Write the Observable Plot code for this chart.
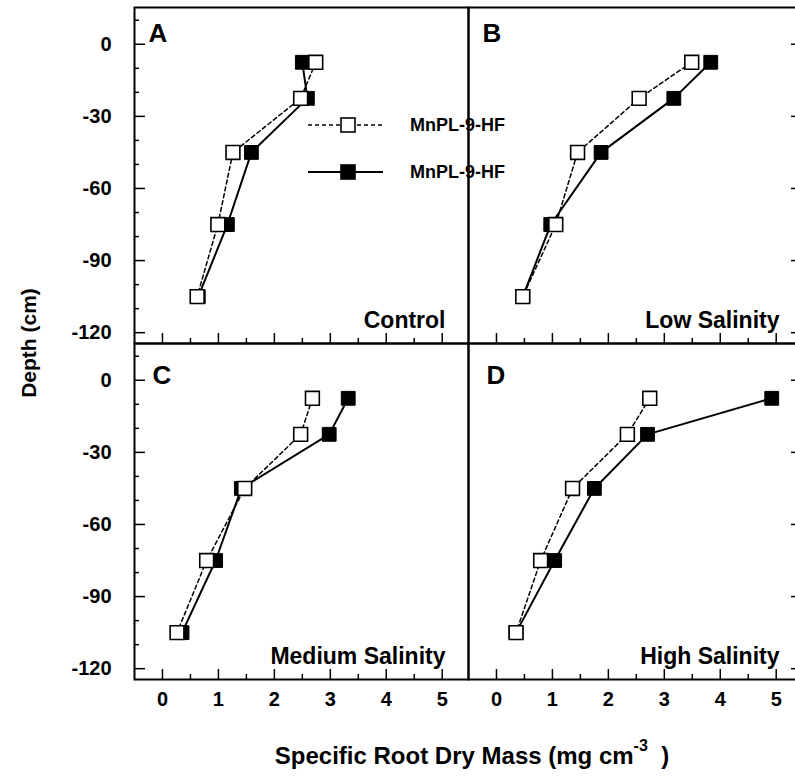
<!DOCTYPE html>
<html><head><meta charset="utf-8">
<script src="https://cdn.jsdelivr.net/npm/d3@7"></script>
<script src="https://cdn.jsdelivr.net/npm/@observablehq/plot@0.6"></script>
<style>
html,body{margin:0;padding:0;overflow:hidden;background:#fff;}
#chart{position:relative;width:802px;height:778px;}
</style></head><body><div id="chart"></div>
<script>
// ---- data ----
const depths = [-7.5, -22.5, -45, -75, -105];
const panelNames = ["Control", "Low Salinity", "Medium Salinity", "High Salinity"];
const panelLetters = ["A", "B", "C", "D"];
const panelCols = [0, 1, 0, 1];
const panelRows = [0, 0, 1, 1];
const seriesLabels = ["MnPL-9-HF", "MnPL-9-HF"]; // open (dashed), filled (solid)

// open squares, dashed line
const openControl = [2.74, 2.47, 1.26, 0.99, 0.62];
const openLow     = [3.49, 2.55, 1.45, 1.06, 0.47];
const openMedium  = [2.68, 2.47, 1.47, 0.79, 0.26];
const openHigh    = [2.74, 2.34, 1.36, 0.79, 0.35];
// filled squares, solid line
const filledControl = [2.50, 2.59, 1.59, 1.16, 0.64];
const filledLow     = [3.83, 3.17, 1.87, 0.97, 0.47];
const filledMedium  = [3.32, 2.98, 1.41, 0.95, 0.35];
const filledHigh    = [4.92, 2.70, 1.75, 1.04, 0.35];

const xMajorTicks = [0, 1, 2, 3, 4, 5];
const xMinorTicks = [0.5, 1.5, 2.5, 3.5, 4.5];
const yMajorTicks = [0, -30, -60, -90, -120];
const yMinorTicks = [10, -10, -20, -40, -50, -70, -80, -100, -110];

// ---- tables ----
const openSets = [openControl, openLow, openMedium, openHigh];
const filledSets = [filledControl, filledLow, filledMedium, filledHigh];
const panels = panelNames.map((name, i) => ({name, letter: panelLetters[i], col: panelCols[i], row: panelRows[i]}));
function recs(sets) {
  const out = [];
  sets.forEach((vals, i) => vals.forEach((v, j) => out.push({panel: panelNames[i], col: panelCols[i], row: panelRows[i], depth: depths[j], value: v})));
  return out;
}
const openRecs = recs(openSets);
const filledRecs = recs(filledSets);
const leftMajor = yMajorTicks.map(v => ({v, col: 0}));
const leftMinor = yMinorTicks.map(v => ({v, col: 0}));
const rightMajor = yMajorTicks.map(v => ({v, col: 1}));
const rightMinor = yMinorTicks.map(v => ({v, col: 1}));

const W = 802, H = 778, ML = 134, MT = 7, MB = 99;
const FW = (W - ML) / 2, FH = (H - MT - MB) / 2;
const font = "'Liberation Sans', Arial, Helvetica, sans-serif";
const tickStyle = {stroke: "black", strokeWidth: 1.5};

const chart = Plot.plot({
  width: W, height: H,
  marginLeft: ML, marginRight: 0, marginTop: MT, marginBottom: MB,
  style: {fontFamily: font, fontWeight: "bold", color: "black", background: "white", overflow: "visible"},
  x: {domain: [-0.5, 5.47]},
  y: {domain: [-124.5, 15.3]},
  fx: {axis: null, padding: 0, domain: [0, 1]},
  fy: {axis: null, padding: 0, domain: [0, 1]},
  marks: [
    Plot.ruleX(xMajorTicks, {x: d => d, insetTop: FH - 10, ...tickStyle}),
    Plot.ruleX(xMinorTicks, {x: d => d, insetTop: FH - 5, ...tickStyle}),
    Plot.ruleY(leftMajor, {y: "v", fx: "col", insetRight: FW - 11, ...tickStyle}),
    Plot.ruleY(leftMinor, {y: "v", fx: "col", insetRight: FW - 5, ...tickStyle}),
    Plot.ruleY(rightMajor, {y: "v", fx: "col", insetLeft: FW - 11, ...tickStyle}),
    Plot.ruleY(rightMinor, {y: "v", fx: "col", insetLeft: FW - 5, ...tickStyle}),
    Plot.axisX(xMajorTicks, {anchor: "bottom", tickSize: 0, tickPadding: 12, fontSize: 20, fontWeight: "bold", tickFormat: d => String(d), label: null}),
    Plot.axisY(yMajorTicks, {anchor: "left", tickSize: 0, tickPadding: 23, fontSize: 20, fontWeight: "bold", tickFormat: d => String(d), label: null}),
    Plot.line(openRecs, {x: "value", y: "depth", fx: "col", fy: "row", stroke: "black", strokeWidth: 1.5, strokeDasharray: "4,3"}),
    Plot.line(filledRecs, {x: "value", y: "depth", fx: "col", fy: "row", stroke: "black", strokeWidth: 2}),
    Plot.dot(filledRecs, {x: "value", y: "depth", fx: "col", fy: "row", symbol: "square", r: 7.8, fill: "black", stroke: "black", strokeWidth: 1}),
    Plot.dot(openRecs, {x: "value", y: "depth", fx: "col", fy: "row", symbol: "square", r: 7.8, fill: "white", stroke: "black", strokeWidth: 1.6}),
    Plot.text(panels, {fx: "col", fy: "row", text: "name", frameAnchor: "bottom-right", textAnchor: "end", lineAnchor: "bottom", dx: -23, dy: -16, fontSize: 23, fontWeight: "bold"}),
    Plot.text(panels.filter(p => p.row === 0), {fx: "col", fy: "row", text: "letter", frameAnchor: "top-left", textAnchor: "start", lineAnchor: "top", dx: 14, dy: 16, fontSize: 26, fontWeight: "bold"}),
    Plot.text(panels.filter(p => p.row === 1), {fx: "col", fy: "row", text: "letter", frameAnchor: "top-left", textAnchor: "start", lineAnchor: "top", dx: 18, dy: 22, fontSize: 26, fontWeight: "bold"}),
    Plot.frame({stroke: "black", strokeWidth: 2})
  ]
});
document.getElementById("chart").appendChild(chart);

// ---- titles and legend ----
const svg = d3.select(chart);
svg.append("text")
  .attr("transform", `translate(30,${MT + FH}) rotate(-90)`)
  .attr("text-anchor", "middle").attr("dominant-baseline", "middle")
  .style("font-family", font).style("font-weight", "bold").style("font-size", "21px")
  .text("Depth (cm)");
const xt = svg.append("text")
  .attr("x", 472).attr("y", 764).attr("text-anchor", "middle")
  .style("font-family", font).style("font-weight", "bold").style("font-size", "24px")
  .style("white-space", "pre");
xt.append("tspan").text("Specific Root Dry Mass (mg cm");
xt.append("tspan").attr("dy", -13).style("font-size", "16px").text("-3");
xt.append("tspan").attr("dy", 13).text("  )");

const leg = svg.append("g");
const legRows = [
  {y: 125, dash: "4,3", fill: "white", sw: 1.5, label: seriesLabels[0]},
  {y: 172, dash: null, fill: "black", sw: 2, label: seriesLabels[1]}
];
legRows.forEach(r => {
  leg.append("line").attr("x1", 308).attr("x2", 383).attr("y1", r.y).attr("y2", r.y)
    .attr("stroke", "black").attr("stroke-width", r.sw).attr("stroke-dasharray", r.dash);
  leg.append("rect").attr("x", 341).attr("y", r.y - 7).attr("width", 14).attr("height", 14)
    .attr("fill", r.fill).attr("stroke", "black").attr("stroke-width", 1.6);
  leg.append("text").attr("x", 410).attr("y", r.y).attr("dominant-baseline", "central")
    .attr("text-anchor", "start")
    .style("font-family", font).style("font-weight", "bold").style("font-size", "18px")
    .text(r.label);
});
</script></body></html>
